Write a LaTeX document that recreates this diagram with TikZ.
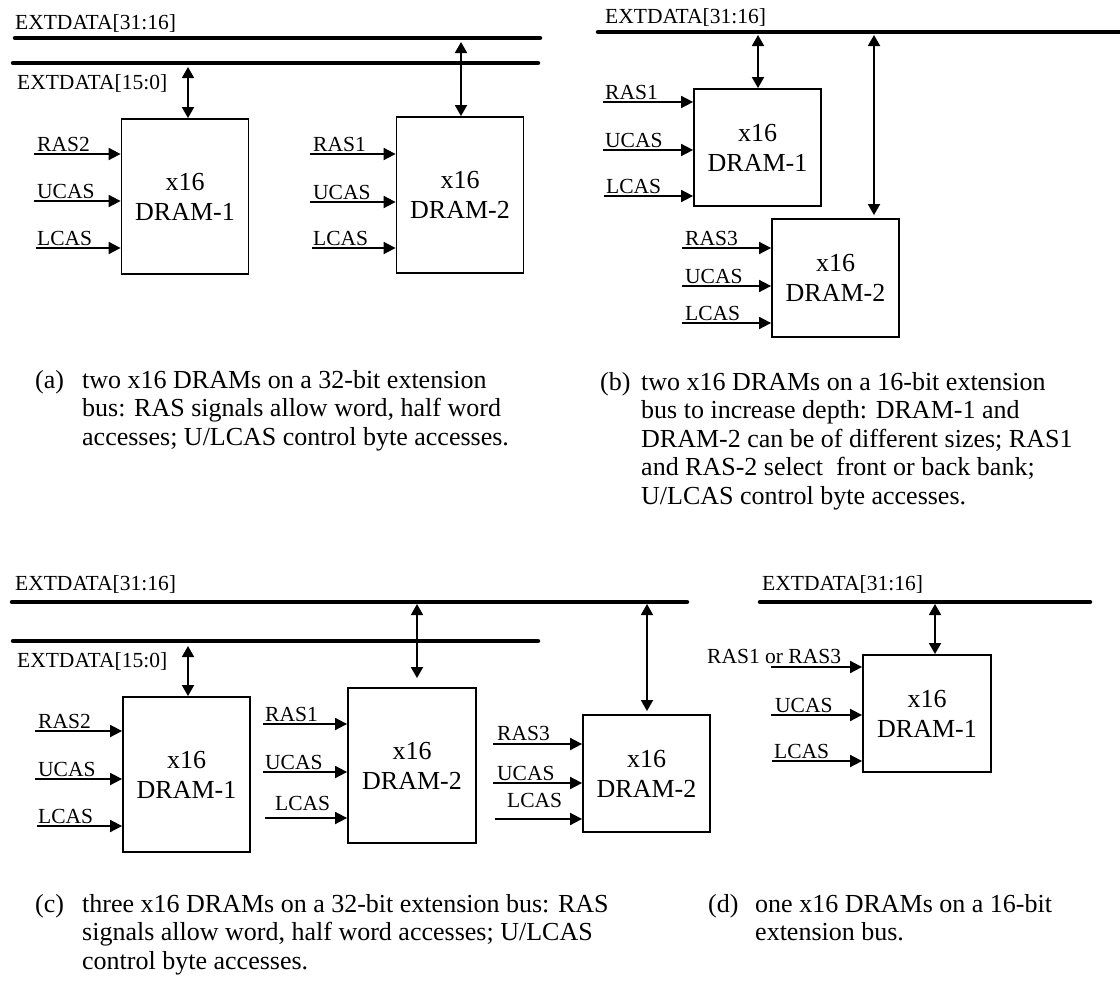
\documentclass[tikz,border=0pt]{standalone}
\usepackage{fontspec}
\setmainfont{Liberation Serif}
\usetikzlibrary{arrows.meta}

\tikzset{
  bus/.style={line width=4.5pt, line cap=round},
  dram/.style={draw, line width=1.8pt, minimum width=127pt, inner sep=0pt,
    align=center, font=\fontsize{26}{30}\selectfont},
  sig/.style={line width=1.8pt, -{Triangle[length=12pt,width=12pt]}},
  bidir/.style={line width=1.8pt,
    {Triangle[length=11pt,width=12pt]}-{Triangle[length=11pt,width=12pt]}},
  lbl/.style={anchor=base west, inner sep=0pt, font=\fontsize{21.5}{25}\selectfont},
  captext/.style={anchor=base west, inner sep=0pt, font=\fontsize{26}{29}\selectfont},
}

\begin{document}
\begin{tikzpicture}[x=1pt, y=-1pt]
\useasboundingbox (0,0) rectangle (1120,988);

% ---------------- (a) two DRAMs on a 32-bit bus ----------------
\node[lbl] (aX1) at (15,29) {EXTDATA[31:16]};
\coordinate (aB1w) at (15,38);  \coordinate (aB1e) at (540,38);
\coordinate (aB2w) at (13,63);  \coordinate (aB2e) at (538,63);
\draw[bus] (aB1w) -- (aB1e);
\draw[bus] (aB2w) -- (aB2e);
\node[lbl] (aX2) at (17,89) {EXTDATA[15:0]};

\node[dram, minimum height=155pt] (a1) at (185,196.5) {x16\\DRAM-1};
\node[dram, minimum height=156pt] (a2) at (460,195) {x16\\DRAM-2};

\coordinate (aT1) at (188,67);
\coordinate (aT2) at (461,42);
\draw[bidir] (aT1) -- (aT1 |- a1.north);
\draw[bidir] (aT2) -- (aT2 |- a2.north);

\coordinate (a1s1) at (34,154); \coordinate (a1s2) at (34,201); \coordinate (a1s3) at (36,248);
\draw[sig] (a1s1) -- (a1s1 -| a1.west);
\draw[sig] (a1s2) -- (a1s2 -| a1.west);
\draw[sig] (a1s3) -- (a1s3 -| a1.west);
\node[lbl] (a1l1) at (37,151) {RAS2};
\node[lbl] (a1l2) at (37,198) {UCAS};
\node[lbl] (a1l3) at (37,245) {LCAS};

\coordinate (a2s1) at (310,154); \coordinate (a2s2) at (310,202); \coordinate (a2s3) at (312,248);
\draw[sig] (a2s1) -- (a2s1 -| a2.west);
\draw[sig] (a2s2) -- (a2s2 -| a2.west);
\draw[sig] (a2s3) -- (a2s3 -| a2.west);
\node[lbl] (a2l1) at (313,151) {RAS1};
\node[lbl] (a2l2) at (313,199) {UCAS};
\node[lbl] (a2l3) at (313,245) {LCAS};

% ---------------- (b) two DRAMs on a 16-bit bus ----------------
\node[lbl] (bX1) at (605,23) {EXTDATA[31:16]};
\coordinate (bB1w) at (598,32); \coordinate (bB1e) at (1124,32);
\draw[bus] (bB1w) -- (bB1e);

\node[dram, minimum height=117pt] (b1) at (757.5,147.5) {x16\\DRAM-1};
\node[dram, minimum height=118pt] (b2) at (835.5,278) {x16\\DRAM-2};

\coordinate (bT1) at (758,35);
\coordinate (bT2) at (874,35);
\draw[bidir] (bT1) -- (bT1 |- b1.north);
\draw[bidir, shorten >=3pt] (bT2) -- (bT2 |- b2.north);

\coordinate (b1s1) at (603,102); \coordinate (b1s2) at (603,150); \coordinate (b1s3) at (604,196);
\draw[sig] (b1s1) -- (b1s1 -| b1.west);
\draw[sig] (b1s2) -- (b1s2 -| b1.west);
\draw[sig] (b1s3) -- (b1s3 -| b1.west);
\node[lbl] (b1l1) at (605,99) {RAS1};
\node[lbl] (b1l2) at (605,147) {UCAS};
\node[lbl] (b1l3) at (606,193) {LCAS};

\coordinate (b2s1) at (682,248); \coordinate (b2s2) at (682,286); \coordinate (b2s3) at (682,323);
\draw[sig] (b2s1) -- (b2s1 -| b2.west);
\draw[sig] (b2s2) -- (b2s2 -| b2.west);
\draw[sig] (b2s3) -- (b2s3 -| b2.west);
\node[lbl] (b2l1) at (685,245) {RAS3};
\node[lbl] (b2l2) at (685,283) {UCAS};
\node[lbl] (b2l3) at (685,320) {LCAS};

% ---------------- (c) three DRAMs on a 32-bit bus ----------------
\node[lbl] (cX1) at (15,590) {EXTDATA[31:16]};
\coordinate (cB1w) at (12,602); \coordinate (cB1e) at (687,602);
\coordinate (cB2w) at (13,641); \coordinate (cB2e) at (538,641);
\draw[bus] (cB1w) -- (cB1e);
\draw[bus] (cB2w) -- (cB2e);
\node[lbl] (cX2) at (17,667) {EXTDATA[15:0]};

\node[dram, minimum height=155pt] (c1) at (186.5,774.5) {x16\\DRAM-1};
\node[dram, minimum height=155pt, minimum width=128pt] (c2) at (412,765.5) {x16\\DRAM-2};
\node[dram, minimum height=117pt] (c3) at (646.5,773.5) {x16\\DRAM-2};

\coordinate (cT1) at (188,646);
\coordinate (cT2) at (417,604);
\coordinate (cT3) at (647,604);
\draw[bidir] (cT1) -- (cT1 |- c1.north);
\draw[bidir, shorten >=9pt] (cT2) -- (cT2 |- c2.north);
\draw[bidir, shorten >=3pt] (cT3) -- (cT3 |- c3.north);

\coordinate (c1s1) at (35,731); \coordinate (c1s2) at (35,779); \coordinate (c1s3) at (37,826);
\draw[sig] (c1s1) -- (c1s1 -| c1.west);
\draw[sig] (c1s2) -- (c1s2 -| c1.west);
\draw[sig] (c1s3) -- (c1s3 -| c1.west);
\node[lbl] (c1l1) at (38,728) {RAS2};
\node[lbl] (c1l2) at (38,776) {UCAS};
\node[lbl] (c1l3) at (38,823) {LCAS};

\coordinate (c2s1) at (263,724); \coordinate (c2s2) at (263,772); \coordinate (c2s3) at (265,818);
\draw[sig] (c2s1) -- (c2s1 -| c2.west);
\draw[sig] (c2s2) -- (c2s2 -| c2.west);
\draw[sig] (c2s3) -- (c2s3 -| c2.west);
\node[lbl] (c2l1) at (265,721) {RAS1};
\node[lbl] (c2l2) at (265,769) {UCAS};
\node[lbl] (c2l3) at (275,810) {LCAS};

\coordinate (c3s1) at (493,744); \coordinate (c3s2) at (493,783); \coordinate (c3s3) at (495,819);
\draw[sig] (c3s1) -- (c3s1 -| c3.west);
\draw[sig] (c3s2) -- (c3s2 -| c3.west);
\draw[sig] (c3s3) -- (c3s3 -| c3.west);
\node[lbl] (c3l1) at (497,740) {RAS3};
\node[lbl] (c3l2) at (497,780) {UCAS};
\node[lbl] (c3l3) at (507,807) {LCAS};

% ---------------- (d) one DRAM on a 16-bit bus ----------------
\node[lbl] (dX1) at (762,590) {EXTDATA[31:16]};
\coordinate (dB1w) at (760,602); \coordinate (dB1e) at (1090,602);
\draw[bus] (dB1w) -- (dB1e);

\node[dram, minimum height=117pt, minimum width=128pt] (d1) at (927,713.5) {x16\\DRAM-1};

\coordinate (dT1) at (935,604);
\draw[bidir] (dT1) -- (dT1 |- d1.north);

\coordinate (d1s1) at (771,667); \coordinate (d1s2) at (771,715); \coordinate (d1s3) at (772,761);
\draw[sig] (d1s1) -- (d1s1 -| d1.west);
\draw[sig] (d1s2) -- (d1s2 -| d1.west);
\draw[sig] (d1s3) -- (d1s3 -| d1.west);
\node[lbl] (d1l1) at (707,663) {RAS1 or RAS3};
\node[lbl] (d1l2) at (775,712) {UCAS};
\node[lbl] (d1l3) at (774,758) {LCAS};

% ---------------- captions ----------------
\node[captext] (capA) at (35,388) {(a)};
\node[captext] (capA1) at (82,388) {two x16 DRAMs on a 32-bit extension};
\node[captext] (capA2) at (82,416.5) {bus: RAS signals allow word, half word};
\node[captext] (capA3) at (82,445) {accesses; U/LCAS control byte accesses.};

\node[captext] (capB) at (600,390) {(b)};
\node[captext] (capB1) at (641,390) {two x16 DRAMs on a 16-bit extension};
\node[captext] (capB2) at (641,418.5) {bus to increase depth: DRAM-1 and};
\node[captext] (capB3) at (641,447) {DRAM-2 can be of different sizes; RAS1};
\node[captext] (capB4) at (641,475.5) {and RAS-2 select\ \ front or back bank;};
\node[captext] (capB5) at (641,504) {U/LCAS control byte accesses.};

\node[captext] (capC) at (35,912) {(c)};
\node[captext] (capC1) at (82,912) {three x16 DRAMs on a 32-bit extension bus: RAS};
\node[captext] (capC2) at (82,940.5) {signals allow word, half word accesses; U/LCAS};
\node[captext] (capC3) at (82,969) {control byte accesses.};

\node[captext] (capD) at (708,912) {(d)};
\node[captext] (capD1) at (755,912) {one x16 DRAMs on a 16-bit};
\node[captext] (capD2) at (755,940.5) {extension bus.};
\end{tikzpicture}
\end{document}
